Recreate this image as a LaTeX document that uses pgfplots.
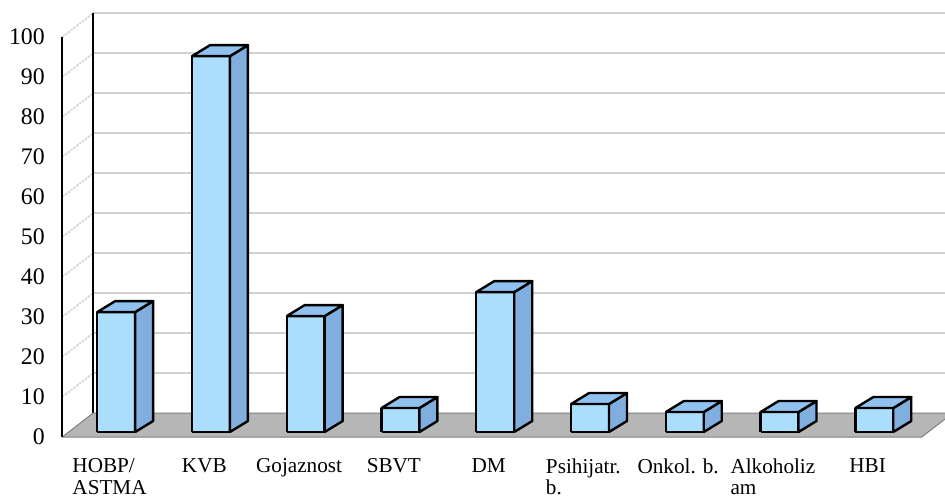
\documentclass[border=0pt]{standalone}
\usepackage{pgfplots}
\pgfplotsset{compat=1.18}
\usepackage{pgfplotstable}
\usepackage{fontspec}
\setmainfont{Liberation Serif}
\definecolor{barfront}{RGB}{171,221,252}
\definecolor{bartop}{RGB}{145,193,238}
\definecolor{barside}{RGB}{128,174,222}
\definecolor{floorgray}{RGB}{182,182,182}
\definecolor{gridgray}{RGB}{208,208,208}

\pgfplotstableread{
idx v
0 30
1 94
2 29
3 6
4 35
5 7
6 5
7 5
8 6
}\datatable

\begin{document}
\begin{tikzpicture}
\begin{axis}[
 width=472.5pt, height=249.5pt, scale only axis,
 xmin=-0.654, xmax=9.314, ymin=-15.5, ymax=109.25,
 axis line style={draw=none},
 major tick length=0pt,
 /pgf/number format/assume math mode=true,
 ytick={0,10,...,100},
 yticklabel style={anchor=east, inner sep=0pt, xshift=22.5pt, font=\fontsize{11.9}{14}\selectfont},
 xtick={0.5,1.5,...,8.5},
 xticklabels={{HOBP/\\ASTMA},KVB,Gojaznost,SBVT,DM,{Psihijatr.\\b.},{Onkol. b.},{Alkoholiz\\am},HBI},
 xticklabel style={anchor=north, align=left, inner sep=0pt, yshift=20.5pt, font=\fontsize{10.6}{10.8}\selectfont},
]
% back wall gridlines and side wall diagonals
\pgfplotsinvokeforeach{1,...,10}{
  \draw[gridgray, line width=1pt] (axis cs:0.327,{6+10*#1}) -- (axis cs:9.4,{6+10*#1});
  \draw[gray!35, line width=0.8pt, dash pattern=on 1.2pt off 0.6pt] (axis cs:0,{10*#1}) -- (axis cs:0.327,{6+10*#1});
}
\draw[black, line width=1.2pt] (axis cs:0.327,6) -- (axis cs:0.327,106);
% floor
\addplot[fill=floorgray, draw=gray, line width=0.5pt] coordinates {(0,0) (9.07,0) (9.4,6) (0.327,6) (0,0)};
\draw[black, line width=1.2pt] (axis cs:0,0) -- (axis cs:0,100);
% bars
\pgfplotsforeachungrouped \i in {0,...,8}{%
  \pgfplotstablegetelem{\i}{v}\of\datatable
  \let\bval\pgfplotsretval
  \pgfmathsetmacro{\xa}{\i+0.37}%
  \pgfmathsetmacro{\xb}{\i+0.77}%
  \pgfmathsetmacro{\xc}{\i+0.96}%
  \pgfmathsetmacro{\xd}{\i+0.56}%
  \pgfmathsetmacro{\yb}{1.25+\bval}%
  \pgfmathsetmacro{\yc}{4+\bval}%
  \edef\temp{%
   \noexpand\addplot[fill=barfront, draw=black, line width=1.2pt, line join=round] coordinates {(\xa,1.25) (\xb,1.25) (\xb,\yb) (\xa,\yb) (\xa,1.25)};
   \noexpand\addplot[fill=barside, draw=black, line width=1.2pt, line join=round] coordinates {(\xb,1.25) (\xc,4) (\xc,\yc) (\xb,\yb) (\xb,1.25)};
   \noexpand\addplot[fill=bartop, draw=black, line width=1.2pt, line join=round] coordinates {(\xa,\yb) (\xb,\yb) (\xc,\yc) (\xd,\yc) (\xa,\yb)};
  }%
  \temp
}
\end{axis}
\end{tikzpicture}
\end{document}
